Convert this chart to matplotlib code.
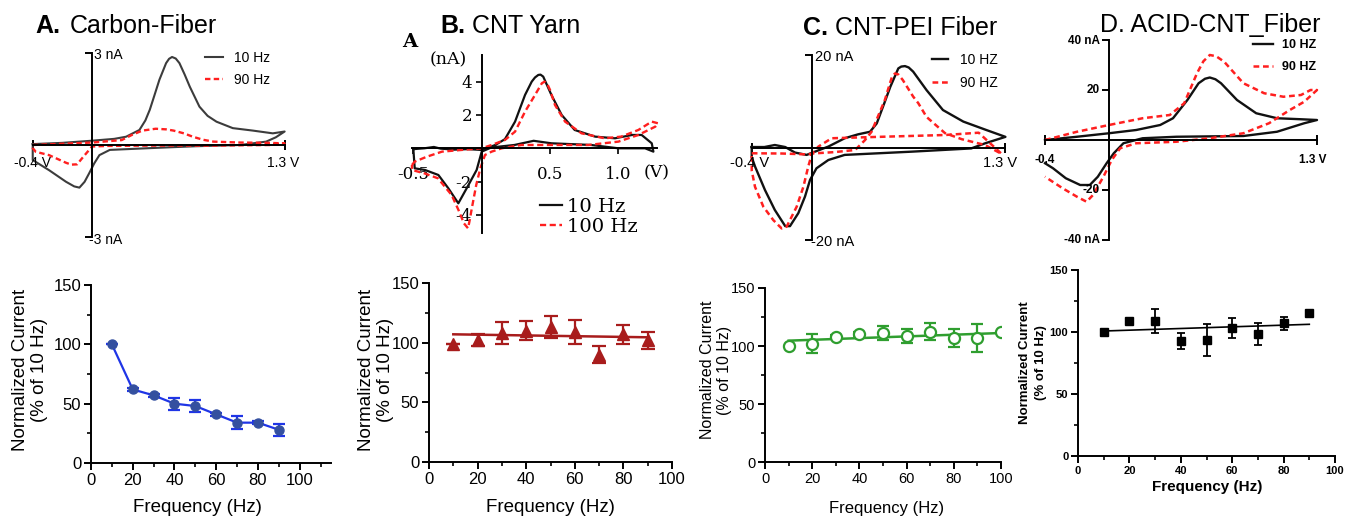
import matplotlib
matplotlib.use('Agg')
import matplotlib.pyplot as plt
from matplotlib.ticker import MultipleLocator

plt.rcParams['font.family'] = ['Liberation Sans', 'DejaVu Sans']

# ---------------------------------------------------------
# cyclic voltammograms, potential (V) / current (nA)
# ---------------------------------------------------------
# A. Carbon-Fiber
a10_e = [-0.40, -0.20, 0.00, 0.15, 0.23, 0.32, 0.36, 0.39, 0.42, 0.455, 0.50, 0.52, 0.54, 0.565, 0.59, 0.625, 0.66,
         0.725, 0.78, 0.84, 0.95, 1.085, 1.22, 1.30, 1.24, 1.175, 1.00, 0.70, 0.40, 0.12, 0.05, 0.015, -0.02, -0.05,
         -0.085, -0.12, -0.175, -0.29, -0.40, -0.40]
a10_i = [0.03, 0.07, 0.14, 0.20, 0.27, 0.49, 0.80, 1.15, 1.60, 2.13, 2.67, 2.81, 2.87, 2.82, 2.67, 2.30, 1.90,
         1.25, 0.95, 0.76, 0.55, 0.47, 0.38, 0.44, 0.25, 0.11, 0.00, -0.04, -0.10, -0.16, -0.33, -0.60, -0.93, -1.20,
         -1.39, -1.35, -1.20, -0.82, -0.49, 0.03]
a90_e = [-0.40, -0.20, 0.00, 0.20, 0.27, 0.34, 0.43, 0.50, 0.55, 0.62, 0.68, 0.75, 0.82, 1.00, 1.20, 1.30,
         1.20, 0.80, 0.40, 0.10, 0.00, -0.035, -0.07, -0.10, -0.14, -0.175, -0.29, -0.38, -0.40, -0.40]
a90_i = [0.00, 0.04, 0.08, 0.16, 0.33, 0.47, 0.53, 0.51, 0.47, 0.38, 0.27, 0.17, 0.11, 0.08, 0.07, 0.05,
         0.00, -0.02, -0.02, -0.03, -0.05, -0.25, -0.45, -0.63, -0.64, -0.58, -0.33, -0.22, -0.10, 0.00]

# B. CNT Yarn
b10_e = [-0.50, -0.42, -0.35, -0.30, -0.20, -0.10, 0.00, 0.10, 0.17, 0.244, 0.317, 0.366, 0.39, 0.414, 0.43, 0.45,
         0.51, 0.585, 0.68, 0.83, 0.975, 1.10, 1.17, 1.244, 1.256, 1.195, 1.00, 0.80, 0.51, 0.38, 0.24, 0.07, 0.00,
         -0.037, -0.11, -0.171, -0.244, -0.317, -0.415, -0.49, -0.50]
b10_i = [-0.05, 0.00, 0.08, -0.02, -0.08, -0.05, -0.10, 0.20, 0.55, 1.60, 3.20, 4.00, 4.25, 4.40, 4.42, 4.30,
         3.20, 2.00, 1.10, 0.70, 0.60, 0.80, 0.80, 0.30, -0.20, 0.00, 0.00, 0.20, 0.30, 0.45, 0.20, 0.05, -0.20,
         -1.30, -2.40, -3.30, -2.40, -1.60, -1.30, -1.20, -0.05]
b100_e = [-0.51, -0.49, -0.40, -0.29, -0.15, 0.00, 0.073, 0.17, 0.244, 0.317, 0.39, 0.44, 0.46, 0.48, 0.50, 0.536,
          0.61, 0.73, 0.90, 1.02, 1.146, 1.244, 1.29, 1.27, 1.146, 1.00, 0.78, 0.54, 0.29, 0.146, 0.073, 0.024,
          -0.01, -0.04, -0.07, -0.09, -0.10, -0.13, -0.17, -0.22, -0.32, -0.42, -0.51, -0.51]
b100_i = [-1.00, -0.80, -0.50, -0.20, -0.10, 0.00, 0.20, 0.50, 1.00, 2.20, 3.20, 3.90, 4.00, 3.85, 3.50, 2.60,
          1.60, 0.90, 0.60, 0.70, 1.10, 1.60, 1.50, 1.30, 0.80, 0.40, 0.20, 0.20, 0.20, 0.00, -0.20, -0.40,
          -1.20, -2.20, -3.50, -4.40, -4.80, -4.50, -3.70, -2.80, -1.80, -1.50, -1.30, -1.00]

# C. CNT-PEI Fiber
c10_e = [-0.405, -0.32, -0.25, -0.18, -0.114, -0.036, 0.02, 0.11, 0.22, 0.31, 0.39, 0.435, 0.485, 0.526, 0.58, 0.60,
         0.625, 0.65, 0.68, 0.77, 0.88, 1.017, 1.17, 1.30, 1.163, 1.07, 0.67, 0.22, 0.11, 0.03, -0.013, -0.047,
         -0.092, -0.148, -0.18, -0.25, -0.316, -0.383, -0.405, -0.405]
c10_i = [0.10, 0.10, 0.54, 0.10, -1.10, -1.60, -0.90, 0.20, 2.00, 2.85, 3.40, 5.20, 9.50, 13.10, 17.10, 17.50,
         17.60, 17.30, 16.40, 12.40, 8.10, 5.60, 3.80, 2.30, 0.90, -0.20, -0.90, -1.60, -2.70, -4.50, -7.00, -10.60,
         -14.20, -17.00, -17.00, -13.50, -9.20, -4.10, -2.10, 0.10]
c90_e = [-0.405, -0.20, -0.025, 0.00, 0.15, 0.29, 0.356, 0.40, 0.49, 0.525, 0.54, 0.558, 0.58, 0.61, 0.68, 0.714,
         0.77, 0.894, 1.006, 1.163, 1.275, 1.12, 0.894, 0.446, 0.132, 0.043, 0.00, -0.025, -0.058, -0.103, -0.17,
         -0.204, -0.26, -0.327, -0.383, -0.405, -0.405]
c90_i = [-1.25, -1.30, -1.50, -1.30, -1.00, -0.54, 1.60, 3.40, 10.30, 14.00, 15.50, 16.00, 15.80, 14.60, 11.00, 9.60,
         6.60, 3.10, 1.80, 0.54, -1.40, 3.20, 2.70, 2.30, 2.00, 0.20, -1.30, -4.10, -8.50, -12.80, -17.10,
         -17.50, -15.70, -12.80, -8.50, -5.00, -1.25]

# D. ACID-CNT Fiber
d10_e = [-0.40, -0.20, 0.00, 0.17, 0.32, 0.40, 0.49, 0.56, 0.60, 0.63, 0.665, 0.70, 0.80, 0.92, 1.05, 1.20, 1.30,
         1.22, 1.05, 0.84, 0.42, 0.21, 0.09, 0.03, -0.015, -0.07, -0.12, -0.18, -0.27, -0.35, -0.40]
d10_i = [0.0, 1.3, 2.7, 4.0, 6.0, 8.7, 16.0, 22.7, 24.5, 25.0, 24.3, 22.7, 16.0, 10.7, 8.7, 8.3, 8.0,
         6.7, 3.3, 1.6, 1.3, 0.7, -1.3, -5.3, -9.3, -14.7, -18.0, -18.0, -15.3, -11.3, -9.3]
d90_e = [-0.40, -0.20, 0.00, 0.21, 0.38, 0.47, 0.55, 0.59, 0.63, 0.67, 0.72, 0.84, 0.97, 1.09, 1.20, 1.26, 1.30,
         1.22, 1.13, 1.00, 0.84, 0.63, 0.42, 0.17, 0.07, 0.017, -0.035, -0.10, -0.14, -0.20, -0.29, -0.40]
d90_i = [0.0, 3.3, 6.0, 8.7, 10.0, 14.7, 26.7, 31.5, 34.0, 33.5, 31.3, 22.7, 18.7, 17.3, 18.0, 20.0, 20.0,
         15.3, 12.0, 6.7, 2.7, 0.7, -0.7, -1.3, -3.3, -8.0, -14.7, -22.0, -24.7, -22.7, -19.3, -14.7]

# ---------------------------------------------------------
# normalized current vs frequency (% of 10 Hz)
# ---------------------------------------------------------
freq = [10, 20, 30, 40, 50, 60, 70, 80, 90]
a_norm = [100, 62, 57, 50, 48, 41, 34, 34, 28]
a_err = [0, 1.5, 1.5, 5, 5, 1.5, 5.5, 1.5, 5]
b_norm = [99, 102, 108, 110, 113, 109, 90, 107, 102]
b_err = [0, 5, 9, 8, 9, 10, 7, 8, 7]
c_freq = [10, 20, 30, 40, 50, 60, 70, 80, 90, 100]
c_norm = [100, 102, 108, 110.5, 111, 109, 112.5, 107, 107, 112]
c_err = [0, 8, 1.5, 1.5, 6, 6, 7, 8, 12, 0]
d_norm = [100, 109, 109, 92.7, 93.5, 103, 98.4, 107, 115.6]
d_err = [0, 0, 9.5, 6.7, 13, 8, 8.8, 5.5, 0]
# linear fits
b_fit_x, b_fit_y = [10, 90], [107, 104.5]
c_fit_x, c_fit_y = [10, 100], [104.6, 111.2]
d_fit_x, d_fit_y = [10, 90], [100.8, 106.2]

W, H = 1345, 521
fig = plt.figure(figsize=(W / 100, H / 100), dpi=100)
RED = '#ff1f1f'


def ptext(x, y, s, **kw):
    # text placed in pixel coordinates of the figure
    return fig.text(x / W, 1 - y / H, s, **kw)


def px_axes(left, top, right, bottom):
    return fig.add_axes([left / W, 1 - bottom / H, (right - left) / W, (bottom - top) / H])


def cv_axes(x0, y0, sx, sy, xlim, ylim, xb, yb):
    ax = px_axes(x0 + xlim[0] * sx, y0 - ylim[1] * sy, x0 + xlim[1] * sx, y0 - ylim[0] * sy)
    ax.set_xlim(xlim)
    ax.set_ylim(ylim)
    ax.patch.set_visible(False)
    ax.spines['top'].set_visible(False)
    ax.spines['right'].set_visible(False)
    for s in ('left', 'bottom'):
        ax.spines[s].set_position(('data', 0))
        ax.spines[s].set_linewidth(1.4)
    ax.spines['bottom'].set_bounds(*xb)
    ax.spines['left'].set_bounds(*yb)
    return ax


def freq_axes(box, xmax, fs, bold=False):
    ax = px_axes(*box)
    ax.set_xlim(0, xmax)
    ax.set_ylim(0, 150)
    ax.spines['top'].set_visible(False)
    ax.spines['right'].set_visible(False)
    ax.spines['left'].set_linewidth(1.4)
    ax.spines['bottom'].set_linewidth(1.4)
    xt = list(range(0, 101, 20))
    ax.set_xticks(xt)
    ax.set_yticks([0, 50, 100, 150])
    w = 'bold' if bold else 'normal'
    ax.set_xticklabels([str(v) for v in xt], fontweight=w)
    ax.set_yticklabels(['0', '50', '100', '150'], fontweight=w)
    ax.xaxis.set_minor_locator(MultipleLocator(10))
    ax.yaxis.set_minor_locator(MultipleLocator(25))
    ax.tick_params(which='major', length=5, width=1.4, labelsize=fs, pad=2)
    ax.tick_params(which='minor', length=3, width=1.2)
    return ax


#########################################################
# Top row: CVs
#########################################################
# A
ax = cv_axes(92, 145, 148.2, 30.67, (-0.5, 1.4), (-3.3, 3.3), (-0.4, 1.3), (-3, 3))
ax.set_xticks([-0.4, 1.3], ['', ''])
ax.set_yticks([-3, 3], ['', ''])
ax.tick_params(axis='x', direction='inout', length=7, width=1.4)
ax.tick_params(axis='y', direction='out', length=5, width=1.4)
l1, = ax.plot(a10_e, a10_i, color='#3c3c3c', lw=1.5, label='10 Hz')
l2, = ax.plot(a90_e, a90_i, color=RED, lw=1.7, dashes=(2.3, 1.4), label='90 Hz')
ax.legend(handles=[l1, l2], loc='upper left', bbox_to_anchor=(205 / W, 1 - 51 / H), bbox_transform=fig.transFigure,
          frameon=False, fontsize=10, handlelength=1.3, handletextpad=0.8, labelspacing=0.58, borderpad=0,
          borderaxespad=0)
ptext(94, 55, '3 nA', fontsize=10, ha='left', va='center')
ptext(89, 240, '-3 nA', fontsize=10, ha='left', va='center')
ptext(32, 163, '-0.4 V', fontsize=10, ha='center', va='center')
ptext(283, 163, '1.3 V', fontsize=10, ha='center', va='center')
ptext(35, 33, 'A.', fontsize=18, fontweight='bold', va='baseline')
ptext(70, 33, 'Carbon-Fiber', fontsize=18, va='baseline')

# B
serif = 'DejaVu Serif'
ax = cv_axes(481.7, 148.3, 136.7, 16.67, (-0.6, 1.4), (-5.3, 6.0), (-0.512, 1.28), (-5.1, 5.6))
ax.set_xticks([-0.5, 0.5, 1.0], ['-0.5', '0.5', '1.0'], fontfamily=serif)
ax.set_yticks([-4, -2, 2, 4], ['-4', '-2', '2', '4'], fontfamily=serif)
ax.tick_params(axis='x', direction='out', length=4, width=1.2, labelsize=12, pad=9)
ax.tick_params(axis='y', direction='out', length=4, width=1.2, labelsize=12, pad=3)
l1, = ax.plot(b10_e, b10_i, color='#111111', lw=1.6, label='10 Hz')
l2, = ax.plot(b100_e, b100_i, color=RED, lw=1.7, dashes=(2.6, 1.5), label='100 Hz')
ax.legend(handles=[l1, l2], loc='upper left', bbox_to_anchor=(540 / W, 1 - 198 / H), bbox_transform=fig.transFigure,
          frameon=False, prop={'family': serif, 'size': 14}, handlelength=1.13, handletextpad=0.26,
          labelspacing=0.08, borderpad=0, borderaxespad=0)
ptext(410, 42, 'A', fontsize=14, fontweight='bold', family=serif, ha='center', va='center')
ptext(448, 60, '(nA)', fontsize=12.5, family=serif, ha='center', va='center')
ptext(657, 173, '(V)', fontsize=12.5, family=serif, ha='center', va='center')
ptext(440, 33, 'B.', fontsize=18, fontweight='bold', va='baseline')
ptext(472, 33, 'CNT Yarn', fontsize=18, va='baseline')

# C
ax = cv_axes(812, 147.5, 148.8, 4.625, (-0.5, 1.4), (-22, 22), (-0.4, 1.3), (-20, 20))
ax.set_xticks([-0.4, 1.3], ['', ''])
ax.set_yticks([-20, 20], ['', ''])
ax.tick_params(axis='x', direction='inout', length=7, width=1.4)
ax.tick_params(axis='y', direction='out', length=5, width=1.4)
l1, = ax.plot(c10_e, c10_i, color='#111111', lw=1.7, label='10 HZ')
l2, = ax.plot(c90_e, c90_i, color=RED, lw=1.8, dashes=(2.3, 1.5), label='90 HZ')
ax.legend(handles=[l1, l2], loc='upper left', bbox_to_anchor=(932 / W, 1 - 53 / H), bbox_transform=fig.transFigure,
          frameon=False, fontsize=10, handlelength=1.15, handletextpad=0.85, labelspacing=0.65, borderpad=0,
          borderaxespad=0)
ptext(815, 57, '20 nA', fontsize=10.5, ha='left', va='center')
ptext(811, 242, '-20 nA', fontsize=10.5, ha='left', va='center')
ptext(750, 163, '-0.4 V', fontsize=10.5, ha='center', va='center')
ptext(1000, 163, '1.3 V', fontsize=10.5, ha='center', va='center')
ptext(803, 35, 'C.', fontsize=18, fontweight='bold', va='baseline')
ptext(835, 35, 'CNT-PEI Fiber', fontsize=18, va='baseline')

# D
ax = cv_axes(1109, 140, 160, 2.5, (-0.5, 1.4), (-44, 44), (-0.4, 1.3), (-40, 40))
ax.set_xticks([-0.4, 1.3], ['', ''])
ax.set_yticks([-40, -20, 20, 40], ['', '', '', ''])
ax.tick_params(axis='x', direction='inout', length=7, width=1.4)
ax.tick_params(axis='y', direction='out', length=5, width=1.4)
l1, = ax.plot(d10_e, d10_i, color='#111111', lw=1.7, label='10 HZ')
l2, = ax.plot(d90_e, d90_i, color=RED, lw=1.8, dashes=(2.3, 1.5), label='90 HZ')
ax.legend(handles=[l1, l2], loc='upper left', bbox_to_anchor=(1253 / W, 1 - 39 / H), bbox_transform=fig.transFigure,
          frameon=False, prop={'weight': 'bold', 'size': 9}, handlelength=1.6, handletextpad=0.7,
          labelspacing=0.8, borderpad=0, borderaxespad=0)
bold8 = dict(fontsize=8.5, fontweight='bold', va='center')
ptext(1100, 41, '40 nA', ha='right', **bold8)
ptext(1100, 90, '20', ha='right', **bold8)
ptext(1100, 190, '-20', ha='right', **bold8)
ptext(1100, 240, '-40 nA', ha='right', **bold8)
ptext(1045, 160, '-0.4', ha='center', **bold8)
ptext(1313, 160, '1.3 V', ha='center', **bold8)
ptext(1100, 32, 'D. ACID-CNT_Fiber', fontsize=18, va='baseline')

#########################################################
# Bottom row: frequency response
#########################################################
ylab = 'Normalized Current\n(% of 10 Hz)'

ax = freq_axes((91, 285, 331, 463), 115, 12)
ax.errorbar(freq, a_norm, yerr=a_err, fmt='o-', color='#1f35e6', mfc='#34509f', mec='#34509f', ms=6.5, lw=1.6,
            ecolor='#1f35e6', elinewidth=1.6, capsize=4, capthick=1.6)
ptext(30, 370, ylab, fontsize=13.5, rotation=90, ha='center', va='center', linespacing=1.1)
ptext(197, 507, 'Frequency (Hz)', fontsize=13.5, ha='center', va='center')

ax = freq_axes((429, 283, 672, 462), 100, 12)
ax.plot(b_fit_x, b_fit_y, color='#a81c1c', lw=1.8, zorder=2)
ax.errorbar(freq, b_norm, yerr=b_err, fmt='^', color='#a81c1c', ms=8, ecolor='#a81c1c', elinewidth=1.6,
            capsize=5, capthick=1.6, zorder=3)
ptext(376, 370, ylab, fontsize=13.5, rotation=90, ha='center', va='center', linespacing=1.1)
ptext(550, 507, 'Frequency (Hz)', fontsize=13.5, ha='center', va='center')

ax = freq_axes((765, 288, 1001, 462), 100, 10.5)
ax.plot(c_fit_x, c_fit_y, color='#2f9e2f', lw=1.8, zorder=2)
ax.errorbar(c_freq, c_norm, yerr=c_err, fmt='o', color='#2f9e2f', mfc='white', mec='#2f9e2f', mew=1.6, ms=8,
            ecolor='#2f9e2f', elinewidth=1.6, capsize=4, capthick=1.6, zorder=3)
ptext(716, 370, ylab, fontsize=11.5, rotation=90, ha='center', va='center', linespacing=1.2)
ptext(887, 508, 'Frequency (Hz)', fontsize=12, ha='center', va='center')

ax = freq_axes((1078, 270, 1335, 456), 100, 8, bold=True)
ax.plot(d_fit_x, d_fit_y, color='black', lw=1.2, zorder=2)
ax.errorbar(freq, d_norm, yerr=d_err, fmt='s', color='black', ms=5.5, ecolor='black', elinewidth=1.3,
            capsize=3, capthick=1.3, zorder=3)
ptext(1033, 363, ylab, fontsize=9.5, fontweight='bold', rotation=90, ha='center', va='center', linespacing=1.35)
ptext(1207, 487, 'Frequency (Hz)', fontsize=11, fontweight='bold', ha='center', va='center')

plt.savefig('out.png', dpi=100, facecolor='white')
